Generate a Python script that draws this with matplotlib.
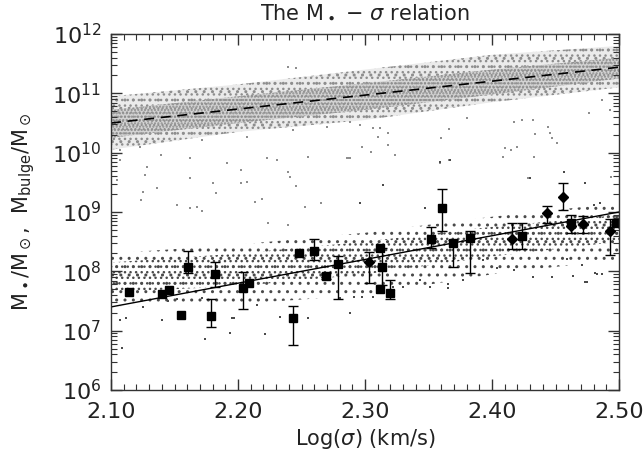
import numpy as np
import matplotlib
matplotlib.use("Agg")
import matplotlib.pyplot as plt
from matplotlib.ticker import LogLocator, MultipleLocator, FixedLocator

# fitted relations (log M at the two ends of the sigma range)
fit_x = [2.10, 2.50]
bh_fit = [7.40, 9.00]
bulge_fit = [10.50, 11.44]

# envelope of the dotted clouds (log M)
band_x = [2.10, 2.20, 2.30, 2.40, 2.50]
bulge_hi_outer = [10.95, 11.15, 11.40, 11.65, 11.80]
bulge_lo_outer = [10.05, 10.35, 10.55, 10.85, 11.10]
bulge_hi_inner = [10.72, 10.95, 11.17, 11.40, 11.60]
bulge_lo_inner = [10.25, 10.50, 10.72, 10.98, 11.25]
bh_hi_outer = [8.30, 8.45, 8.65, 8.92, 9.15]
bh_lo_outer = [7.40, 7.45, 7.60, 7.95, 8.20]
bh_hi_inner = [8.15, 8.30, 8.50, 8.75, 8.95]
bh_lo_inner = [7.65, 7.75, 7.95, 8.25, 8.50]

# scattered bulge points outside the main band
bulge_out_x = [2.107, 2.123, 2.139, 2.162, 2.172, 2.207, 2.223, 2.243, 2.255, 2.270,
               2.286, 2.202, 2.241, 2.239, 2.246, 2.107, 2.128, 2.127, 2.105, 2.125,
               2.136, 2.124, 2.152, 2.162, 2.168, 2.172, 2.180, 2.183, 2.191, 2.202,
               2.207, 2.213, 2.219, 2.239, 2.241, 2.246, 2.265, 2.253, 2.224, 2.239,
               2.288, 2.231, 2.162, 2.288, 2.296, 2.306, 2.312, 2.310, 2.318, 2.298,
               2.305, 2.318, 2.324, 2.287, 2.359, 2.366, 2.360, 2.366, 2.380, 2.409,
               2.410, 2.415, 2.420, 2.417, 2.424, 2.432, 2.434, 2.433, 2.428, 2.446,
               2.447, 2.451, 2.444, 2.457, 2.476, 2.487, 2.493, 2.494]
bulge_out_y = [10.04, 10.10, 9.96, 9.91, 10.21, 10.26, 9.91, 10.38, 9.93, 10.43,
               9.91, 9.71, 9.59, 11.44, 11.43, 9.88, 9.76, 9.62, 9.54, 9.34,
               9.40, 9.20, 9.12, 9.07, 9.08, 9.02, 9.49, 9.32, 9.82, 9.49,
               9.50, 9.17, 9.22, 9.67, 9.59, 9.44, 9.15, 9.08, 8.81, 8.78,
               9.91, 9.88, 9.57, 10.52, 10.47, 10.41, 10.41, 10.27, 10.33, 10.09,
               10.01, 10.13, 9.96, 9.91, 9.82, 9.87, 10.25, 10.40, 10.58, 9.93,
               10.08, 10.04, 10.09, 10.52, 10.55, 10.55, 10.31, 9.93, 9.57, 10.33,
               10.25, 10.16, 10.43, 9.67, 10.67, 10.89, 10.72, 9.59]

# scattered black-hole points outside the main band
bh_out_x = [2.109, 2.107, 2.112, 2.125, 2.140, 2.145, 2.152, 2.174, 2.194, 2.195,
            2.197, 2.221, 2.233, 2.255, 2.288, 2.172, 2.215, 2.280, 2.291, 2.298,
            2.306, 2.322, 2.330, 2.351, 2.365, 2.365, 2.377, 2.343, 2.359, 2.367,
            2.314, 2.296, 2.347, 2.430, 2.457, 2.473, 2.432, 2.447, 2.464, 2.475,
            2.481, 2.417, 2.404, 2.393, 2.473, 2.483, 2.487, 2.459, 2.471, 2.480,
            2.485]
bh_out_y = [6.70, 7.18, 7.21, 7.40, 7.18, 7.50, 7.53, 6.86, 6.96, 7.21,
            7.21, 6.94, 7.23, 7.21, 7.29, 7.55, 7.43, 7.55, 7.57, 7.57,
            7.57, 7.73, 7.73, 7.73, 7.72, 7.78, 7.85, 7.85, 9.84, 9.88,
            9.45, 9.15, 9.07, 9.57, 9.67, 9.49, 7.90, 7.90, 7.92, 7.82,
            7.97, 8.02, 8.05, 8.19, 7.82, 7.95, 7.95, 8.21, 8.10, 9.12,
            9.15]

# measured black holes: squares
sq_x = [2.114, 2.140, 2.146, 2.155, 2.161, 2.179, 2.182, 2.204, 2.209, 2.243,
        2.248, 2.260, 2.269, 2.279, 2.312, 2.313, 2.312, 2.320, 2.352, 2.361,
        2.369, 2.383, 2.424, 2.462, 2.498]
sq_y = [7.65, 7.61, 7.68, 7.26, 8.08, 7.25, 7.95, 7.72, 7.81, 7.22,
        8.31, 8.35, 7.92, 8.12, 8.40, 8.08, 7.71, 7.64, 8.55, 9.07,
        8.47, 8.56, 8.59, 8.81, 8.81]
sq_lo = [None, None, None, None, 7.97, 7.06, 7.74, 7.36, None, 6.76,
         None, 8.19, 7.87, 7.54, None, 7.77, None, 7.53, 8.39, 8.68,
         8.08, 7.97, 8.37, 8.64, None]
sq_hi = [None, None, None, None, 8.35, 7.54, 8.15, 7.99, None, 7.41,
         None, 8.54, 7.98, 8.26, None, 8.40, None, 7.85, 8.75, 9.38,
         8.53, 8.68, 8.82, 8.95, None]

# measured black holes: diamonds
dm_x = [2.303, 2.416, 2.443, 2.456, 2.462, 2.472, 2.493]
dm_y = [8.15, 8.55, 8.99, 9.26, 8.76, 8.79, 8.68]
dm_lo = [7.81, 8.37, 8.81, 9.03, None, 8.65, 8.27]
dm_hi = [8.33, 8.82, 9.10, 9.49, None, 8.93, 8.88]

y_ticks = [1e6, 1e7, 1e8, 1e9, 1e10, 1e11, 1e12]


def err_arrays(y, lo, hi):
    y = np.array(y)
    lo = np.array([np.nan if v is None else v for v in lo])
    hi = np.array([np.nan if v is None else v for v in hi])
    m = 10 ** y
    return m, np.vstack([m - 10 ** lo, 10 ** hi - m])


def stipple(ax, lo, hi, color, hatches, face="none"):
    # dotted cloud drawn as hatched bands between the read-off envelopes
    bx = np.array(band_x)
    ylo, yhi = 10 ** np.array(lo), 10 ** np.array(hi)
    if face != "none":
        ax.fill_between(bx, ylo, yhi, facecolor=face, linewidth=0)
    for h in hatches:
        ax.fill_between(bx, ylo, yhi, facecolor="none", edgecolor=color,
                        linewidth=0, hatch=h)


plt.rcParams["font.family"] = ["DejaVu Sans"]
plt.rcParams["mathtext.fontset"] = "dejavusans"
plt.rcParams["hatch.linewidth"] = 1.0

fig = plt.figure(figsize=(6.44, 4.58), dpi=100)
ax = fig.add_axes([111 / 644, 1 - 390 / 458, 508 / 644, 356 / 458])
ax.set_yscale("log")

gray = "#8e8e8e"
stipple(ax, bulge_lo_outer, bulge_hi_outer, gray, ["..", "..."], face="#ebebeb")
stipple(ax, bulge_lo_inner, bulge_hi_inner, gray, ["....", "....."], face="#d3d3d3")
ax.plot(bulge_out_x, 10 ** np.array(bulge_out_y), "s", color=gray, ms=1.6, mew=0)

dark = "#4a4a4a"
stipple(ax, bh_lo_outer, bh_hi_outer, dark, [".."])
stipple(ax, bh_lo_inner, bh_hi_inner, dark, ["..."])
ax.plot(bh_out_x, 10 ** np.array(bh_out_y), "s", color=dark, ms=1.6, mew=0)

ax.plot(fit_x, 10 ** np.array(bulge_fit), color="black", lw=1.2, ls=(0, (6, 4)))
ax.plot(fit_x, 10 ** np.array(bh_fit), color="black", lw=1.0)

m, e = err_arrays(sq_y, sq_lo, sq_hi)
ax.errorbar(sq_x, m, yerr=e, fmt="s", color="black", ms=6, lw=1.0,
            capsize=3.5, capthick=1.0)
m, e = err_arrays(dm_y, dm_lo, dm_hi)
ax.errorbar(dm_x, m, yerr=e, fmt="D", color="black", ms=5, lw=1.0,
            capsize=3.5, capthick=1.0)

ax.set_xlim(2.10, 2.50)
ax.set_ylim(1e6, 1e12)
ax.xaxis.set_major_locator(FixedLocator([2.10, 2.20, 2.30, 2.40, 2.50]))
ax.set_xticklabels(["2.10", "2.20", "2.30", "2.40", "2.50"])
ax.xaxis.set_minor_locator(MultipleLocator(0.01))
ax.yaxis.set_major_locator(FixedLocator(y_ticks))
ax.set_yticklabels([r"$10^{%d}$" % int(np.log10(t)) for t in y_ticks])
ax.yaxis.set_minor_locator(LogLocator(base=10, subs=np.arange(2, 10), numticks=20))

for s in ax.spines.values():
    s.set_linewidth(1.0)
    s.set_color("#333333")
ax.tick_params(which="both", direction="in", top=True, right=True, colors="#333333",
               labelcolor="#222222", labelsize=16)
ax.tick_params(which="major", length=8, width=1.0)
ax.tick_params(which="minor", length=4, width=0.8)
ax.tick_params(axis="x", pad=9)
ax.tick_params(axis="y", pad=7)

ax.set_xlabel(r"Log($\sigma$) (km/s)", fontsize=15, color="#222222")
ax.xaxis.set_label_coords(0.5, -0.105)
ax.set_ylabel(r"M$_\bullet$/M$_\odot$,  M$_{\rm bulge}$/M$_\odot$", fontsize=15,
              color="#222222")
ax.yaxis.set_label_coords(-0.145, 0.5)
ax.set_title(r"The M$_\bullet$ $-$ $\sigma$ relation", fontsize=15, color="#222222",
             y=1.02)

fig.savefig("out.png", dpi=100)
